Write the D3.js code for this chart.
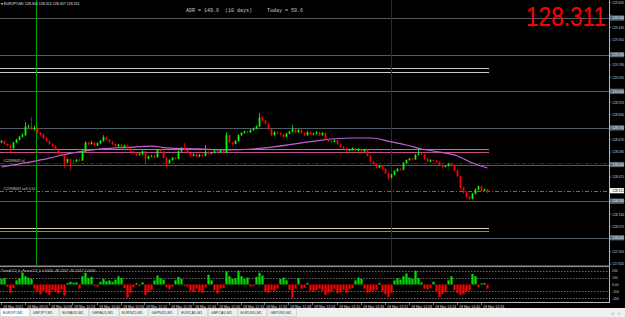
<!DOCTYPE html>
<html>
<head>
<meta charset="utf-8">
<script src="https://cdnjs.cloudflare.com/ajax/libs/d3/7.8.5/d3.min.js"></script>
<style>
  html, body { margin: 0; padding: 0; background: #000; }
  svg { display: block; }
  text { font-family: "Liberation Sans", Arial, sans-serif; }
  .mono { font-family: "Liberation Mono", "DejaVu Sans Mono", monospace; white-space: pre; }
</style>
</head>
<body>
<div id="chart"></div>
<script>
// 2-minute bars, prices in points above 128.000
const firstOpen = 650;
const closes = [660,640,630,610,650,670,690,700,760,760,740,750,715,705,680,660,640,625,600,580,
  560,515,535,525,520,530,528,590,650,640,650,630,645,660,688,670,655,640,625,635,
  620,630,610,590,575,565,570,590,540,555,560,550,600,590,545,510,530,545,540,590,
  610,600,580,560,570,555,565,560,585,575,580,590,585,595,580,700,650,640,660,700,
  715,725,720,735,745,760,820,800,780,740,700,720,715,705,690,710,725,740,720,735,
  715,700,720,705,710,720,700,715,670,660,655,665,640,620,610,595,600,610,595,605,
  590,600,560,520,505,480,490,470,440,410,430,455,470,465,510,530,540,535,565,575,
  570,540,520,530,525,515,495,485,490,505,495,460,420,340,310,280,265,300,330,350,
  320,330,311];
const highs = [668,665,645,634,655,676,695,712,790,772,824,765,755,722,710,686,666,646,630,606,
  585,565,542,540,532,538,536,596,658,656,660,654,652,668,700,692,675,660,645,642,
  640,636,634,614,595,580,578,596,594,562,566,565,606,605,594,550,536,552,550,596,
  618,646,605,584,576,574,572,570,633,590,586,596,594,602,600,720,704,655,668,706,
  722,732,730,742,752,768,852,830,806,784,744,728,726,720,710,716,732,770,745,742,
  740,720,728,725,718,728,724,722,718,675,665,672,668,645,626,614,608,618,615,612,
  610,606,604,565,525,510,496,494,474,445,436,462,476,474,516,536,546,545,572,599,
  580,574,545,536,535,530,520,500,496,512,510,500,465,425,346,315,285,306,336,356,
  354,336,334];
const lows = [645,635,622,578,606,646,664,684,696,748,735,732,708,698,672,655,634,618,594,572,
  552,476,508,462,512,515,520,524,586,632,635,624,626,640,655,664,648,633,618,620,
  614,615,604,584,568,558,560,566,505,535,550,544,546,584,540,483,505,526,534,536,
  586,594,574,554,556,548,550,554,556,568,570,576,578,580,574,576,644,634,636,656,
  695,710,714,716,730,740,756,794,774,734,694,696,708,698,684,686,706,720,714,716,
  710,694,696,700,700,705,694,696,664,654,648,650,634,614,604,588,590,596,590,590,
  584,586,554,514,498,474,475,464,434,394,405,426,450,458,460,505,525,528,530,560,
  564,534,514,515,518,508,488,478,480,486,488,455,414,334,302,272,258,262,296,325,
  315,316,306];
// TrendCCI histogram, one value per bar
const cci = [80,95,-30,-120,-50,60,90,170,120,100,80,-60,-100,-140,-90,-120,-150,-80,-110,-130,
  -70,-160,20,40,25,30,-60,120,170,90,110,-20,-30,40,80,50,60,40,70,120,
  90,-50,-190,-120,-40,20,-20,30,-150,-110,-80,60,130,90,70,-40,-70,-30,60,110,
  80,-20,-30,-90,-110,-60,-100,-120,-40,140,60,-80,-130,-60,-50,190,120,80,90,200,
  120,80,100,-30,-20,110,170,130,-100,-120,-80,-90,-60,80,100,60,-80,-190,-60,90,
  -60,-50,20,-90,-100,-80,-60,-90,-150,-120,-100,-60,-130,-110,-80,-120,-70,-50,60,100,
  80,-60,-120,-100,-90,-80,20,-100,-140,-180,-120,60,90,70,120,160,100,80,200,90,
  30,-60,-70,-50,40,-100,-180,-140,-110,60,120,-80,-120,-150,-140,-100,-90,150,120,-40,
  15,20,-60];
// moving average, sampled at bar indices
const maIdx = [0,16,22,33,44,50,55,66,74,88,100,107,116,123,130,135,140,146,152,157,162];
const maVal = [483,544,572,606,619,626,613,606,599,613,647,667,681,681,654,633,606,585,558,510,476];

const fullLevels = [129.5, 129.25, 129.0, 128.75, 128.5, 128.25, 128.0];
const shortLevels = [129.159, 129.131, 128.606, 128.585, 128.067, 128.046];
const stopLoss = 128.510;
const orderPrice = 128.319;
const lastPrice = 128.311;
const priceTicks = [129.605,129.520,129.435,129.350,129.265,129.180,129.095,129.010,128.925,128.840,
  128.755,128.670,128.585,128.500,128.415,128.330,128.245,128.160,128.075,127.990,127.905,127.820];
const cciTicks = [200, 100, 0, -100, -200];
const cciTickLabels = ["200", "100", "0.00", "-100", "-200"];
const timeIdx = [0,8,16,24,32,40,48,56,64,72,80,88,96,104,112,120,128,136,144,152,160];
const timeLabels = ["18 Mar 2021","18 Mar 09:52","18 Mar 10:08","18 Mar 10:24","18 Mar 10:40",
  "18 Mar 10:56","18 Mar 11:12","18 Mar 11:28","18 Mar 11:44","18 Mar 12:00","18 Mar 12:16",
  "18 Mar 12:32","18 Mar 12:48","18 Mar 13:04","18 Mar 13:20","18 Mar 13:36","18 Mar 13:52",
  "18 Mar 14:08","18 Mar 14:24","18 Mar 14:40","18 Mar 14:56"];
const tabs = ["EURJPY,M1","GBPJPY,M1","EURAUD,M1","GBPAUD,M1","EURNZD,M1","GBPNZD,M1",
  "EURCAD,M1","GBPCAD,M1","EURUSD,M1","GBPUSD,M1"];
const vLineIdx = [11.5, 129.8]; // green and red session markers

const W = 625, H = 317;
const axisX = 609;
const gridCol = "#4f5b66";
const fs = 3.6;

const svg = d3.select("#chart").append("svg")
  .attr("width", W).attr("height", H);
svg.append("rect").attr("width", W).attr("height", H).attr("fill", "#000");

const bars = closes.map((c, i) => ({
  i: i,
  o: 128 + (i === 0 ? firstOpen : closes[i - 1]) / 1000,
  c: 128 + c / 1000,
  h: 128 + highs[i] / 1000,
  l: 128 + lows[i] / 1000
}));

const x = d3.scaleLinear().domain([0, closes.length - 1]).range([1.5, 487.5]);
const y = d3.scaleLinear().domain([128.0, 129.5]).range([237.75, 18]);
const yC = d3.scaleLinear().domain([-200, 200]).range([298.3, 270.7]);

const main = svg.append("g").attr("class", "mainG");

// price levels across the whole window
main.selectAll(".lvl").data(fullLevels).join("line")
  .attr("class", "lvl")
  .attr("x1", 0).attr("x2", axisX)
  .attr("y1", d => Math.round(y(d)) + 0.5).attr("y2", d => Math.round(y(d)) + 0.5)
  .attr("stroke", gridCol).attr("stroke-width", 1);

const shortCols = ["#c8c8c8", "#c8c8c8", "#7d8cae", "#c0508a", "#d8d8b0", "#3aa8b0"];
main.selectAll(".slvl").data(shortLevels).join("line")
  .attr("class", "slvl")
  .attr("x1", 0).attr("x2", 489)
  .attr("y1", d => Math.round(y(d)) + 0.5).attr("y2", d => Math.round(y(d)) + 0.5)
  .attr("stroke", (d, i) => shortCols[i]).attr("stroke-width", 1);

// order lines
main.append("line")
  .attr("x1", 0).attr("x2", axisX)
  .attr("y1", Math.round(y(stopLoss)) + 0.5).attr("y2", Math.round(y(stopLoss)) + 0.5)
  .attr("stroke", "#a00000").attr("stroke-dasharray", "4,2,1,2");
main.append("line")
  .attr("x1", 0).attr("x2", axisX)
  .attr("y1", Math.round(y(orderPrice)) + 0.5).attr("y2", Math.round(y(orderPrice)) + 0.5)
  .attr("stroke", "#1f9a3a").attr("stroke-dasharray", "4,2,1,2");

main.append("text").attr("x", 3).attr("y", y(stopLoss) - 1.5)
  .attr("font-size", fs).attr("fill", "#c8c8c8").text("#12398665 sl");
main.append("text").attr("x", 3).attr("y", y(orderPrice) - 1.5)
  .attr("font-size", fs).attr("fill", "#c8c8c8").text("#12398663 sell 0.10");

// vertical markers
const vCols = ["#00a000", "#9a0000"];
main.selectAll(".vline").data(vLineIdx).join("line")
  .attr("class", "vline")
  .attr("x1", d => Math.round(x(d)) + 0.5).attr("x2", d => Math.round(x(d)) + 0.5)
  .attr("y1", 0).attr("y2", 265)
  .attr("stroke", (d, i) => vCols[i]);

// moving average
const maLine = d3.line()
  .x((d, i) => x(maIdx[i]))
  .y(d => y(128 + d / 1000))
  .curve(d3.curveMonotoneX);
main.append("path").datum(maVal)
  .attr("d", maLine).attr("fill", "none")
  .attr("stroke", "#c25fd2").attr("stroke-width", 1.2);

// candles
const candle = main.selectAll(".candleG").data(bars).join("g").attr("class", "candleG");
const colOf = d => d.c >= d.o ? "#00ff00" : "#ff0000";
candle.append("line")
  .attr("x1", d => x(d.i)).attr("x2", d => x(d.i))
  .attr("y1", d => y(d.h)).attr("y2", d => y(d.l))
  .attr("stroke", colOf).attr("stroke-width", 0.8);
candle.append("rect")
  .attr("x", d => x(d.i) - 0.9).attr("width", 1.8)
  .attr("y", d => y(Math.max(d.o, d.c)))
  .attr("height", d => Math.max(0.8, Math.abs(y(d.o) - y(d.c))))
  .attr("fill", colOf);

// header texts
svg.append("text").attr("x", 1).attr("y", 4.5).attr("font-size", fs).attr("fill", "#e0e0e0")
  .text("\u25BE EURJPY,M1  128.304 128.312 128.307 128.311");
svg.append("text").attr("class", "mono").attr("x", 186).attr("y", 11.5).attr("font-size", 5)
  .attr("fill", "#c8c8c8")
  .text("ADR = 149.6  (10 days)     Today = 59.6");
svg.append("text").attr("x", 526).attr("y", 25.5).attr("font-size", 28)
  .attr("font-family", "'Liberation Sans Narrow', 'Liberation Sans', Arial, sans-serif")
  .attr("fill", "#ff0000").attr("textLength", 80).attr("lengthAdjust", "spacingAndGlyphs")
  .text("128.311");

// price axis: tick labels hidden where a level box sits on top of them
const boxPrices = fullLevels.concat([lastPrice]);
const freeTicks = priceTicks.filter(t => boxPrices.every(b => Math.abs(y(t) - y(b)) > 4.5));
svg.append("line").attr("x1", axisX + 0.5).attr("x2", axisX + 0.5).attr("y1", 0).attr("y2", 302)
  .attr("stroke", "#b8b8b8");
svg.selectAll(".ptick").data(freeTicks).join("text")
  .attr("class", "ptick")
  .attr("x", 612).attr("y", d => y(d) + 1.3)
  .attr("font-size", 3.4).attr("fill", "#c8c8c8")
  .text(d => d.toFixed(3));
svg.selectAll(".ptickMark").data(priceTicks).join("line")
  .attr("class", "ptickMark")
  .attr("x1", axisX).attr("x2", axisX + 2)
  .attr("y1", d => y(d)).attr("y2", d => y(d))
  .attr("stroke", "#b8b8b8").attr("stroke-width", 0.6);

const boxG = svg.selectAll(".boxG").data(fullLevels).join("g").attr("class", "boxG")
  .attr("transform", d => `translate(${axisX + 1},${y(d)})`);
boxG.append("rect").attr("x", 0).attr("y", -2.6).attr("width", 14).attr("height", 5.2).attr("fill", "#5d6c7b");
boxG.append("text").attr("x", 2).attr("y", 1.3).attr("font-size", 3.4).attr("fill", "#e8e8e8")
  .text(d => d.toFixed(3));

const lastG = svg.append("g").attr("transform", `translate(${axisX + 1},${y(lastPrice) - 1.5})`);
lastG.append("rect").attr("x", 0).attr("y", -2.6).attr("width", 14).attr("height", 5.2).attr("fill", "#ffffff");
lastG.append("text").attr("x", 2).attr("y", 1.3).attr("font-size", 3.4).attr("fill", "#000")
  .text(lastPrice.toFixed(3));

// indicator panel
svg.append("rect").attr("x", 0).attr("y", 265.5).attr("width", axisX + 1).attr("height", 1.6)
  .attr("fill", "#8c8c8c");
const ind = svg.append("g").attr("class", "indG");
ind.selectAll(".cciGrid").data(cciTicks.filter(d => d !== 0)).join("line")
  .attr("class", "cciGrid")
  .attr("x1", 0).attr("x2", axisX)
  .attr("y1", d => Math.round(yC(d)) + 0.5).attr("y2", d => Math.round(yC(d)) + 0.5)
  .attr("stroke", "#9a9a9a").attr("stroke-width", 0.7).attr("stroke-dasharray", "1.5,1.5");
ind.selectAll(".cciBar").data(cci).join("rect")
  .attr("class", "cciBar")
  .attr("x", (d, i) => x(i) - 1.1).attr("width", 2.2)
  .attr("y", d => Math.min(yC(d), yC(0)))
  .attr("height", d => Math.abs(yC(d) - yC(0)))
  .attr("fill", d => d >= 0 ? "#00e000" : "#ff0000");
ind.append("text").attr("x", 1).attr("y", 271.5).attr("font-size", fs).attr("fill", "#d0d0d0")
  .text("TrendCCI_h_FerruCCI_h 0.0000 -85.2017 -85.2017 0.0000");
ind.selectAll(".cciLab").data(cciTicks).join("text")
  .attr("class", "cciLab")
  .attr("x", 612).attr("y", d => yC(d) + 1.3)
  .attr("font-size", 3.4).attr("fill", "#c8c8c8")
  .text((d, i) => cciTickLabels[i]);
svg.append("line").attr("x1", 0).attr("x2", axisX + 1).attr("y1", 302.5).attr("y2", 302.5)
  .attr("stroke", "#b8b8b8");

// time axis
const tG = svg.selectAll(".timeG").data(timeIdx).join("g").attr("class", "timeG")
  .attr("transform", d => `translate(${Math.round(x(d)) - 0.5},302)`);
tG.append("line").attr("x1", 0).attr("x2", 0).attr("y1", 0).attr("y2", 3).attr("stroke", "#b8b8b8")
  .attr("stroke-width", 0.6);
tG.append("text").attr("x", 1.5).attr("y", 5.6).attr("font-size", fs).attr("fill", "#d8d8d8")
  .text((d, i) => timeLabels[i]);

// tab bar
svg.append("rect").attr("x", 0).attr("y", 308).attr("width", W).attr("height", 9).attr("fill", "#f0f0f0");
const tabW = 29.7;
const tabG = svg.selectAll(".tabG").data(tabs).join("g").attr("class", "tabG")
  .attr("transform", (d, i) => `translate(${i * tabW},308)`);
tabG.append("rect").attr("x", 0.5).attr("y", 0.5).attr("width", tabW - 1).attr("height", 8)
  .attr("fill", (d, i) => i === 0 ? "#ffffff" : "#f0f0f0")
  .attr("stroke", "#c8c8c8").attr("stroke-width", 0.6);
tabG.append("text").attr("x", 3).attr("y", 5.8).attr("font-size", fs).attr("fill", "#333")
  .text(d => d);
svg.append("text").attr("x", 612).attr("y", 314.5).attr("font-size", 5).attr("fill", "#555").text("\u2039");
svg.append("text").attr("x", 618).attr("y", 314.5).attr("font-size", 5).attr("fill", "#555").text("\u203A");
</script>
</body>
</html>
